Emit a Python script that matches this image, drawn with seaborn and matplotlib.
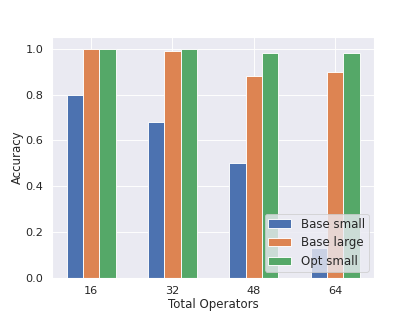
import numpy as np
import pandas as pd
import matplotlib
matplotlib.use("Agg")
import matplotlib.pyplot as plt
import seaborn as sns

categories = ["16", "32", "48", "64"]
base_small = [0.80, 0.68, 0.50, 0.13]
base_large = [1.00, 0.99, 0.88, 0.90]
opt_small = [1.00, 1.00, 0.98, 0.98]
series_names = ["Base small", "Base large", "Opt small"]

sns.set_theme(style="darkgrid", palette="deep",
              rc={"xtick.labelsize": 12.5, "ytick.labelsize": 12.5,
                  "axes.labelsize": 13, "legend.fontsize": 13})
fig, ax = plt.subplots(figsize=(6.4, 4.8), dpi=65)

x = np.arange(len(categories))
width = 0.2
colors = sns.color_palette("deep")
for k, (name, vals) in enumerate(zip(series_names, [base_small, base_large, opt_small])):
    ax.bar(x + (k - 1) * width, vals, width, label=name, color=colors[k])

ax.set_xticks(x)
ax.set_xticklabels(categories)
ax.set_xlabel("Total Operators", labelpad=2)
ax.set_ylabel("Accuracy", labelpad=2)
ax.legend(loc="lower right", borderpad=0.3)
fig.savefig("out.png", dpi=65)
